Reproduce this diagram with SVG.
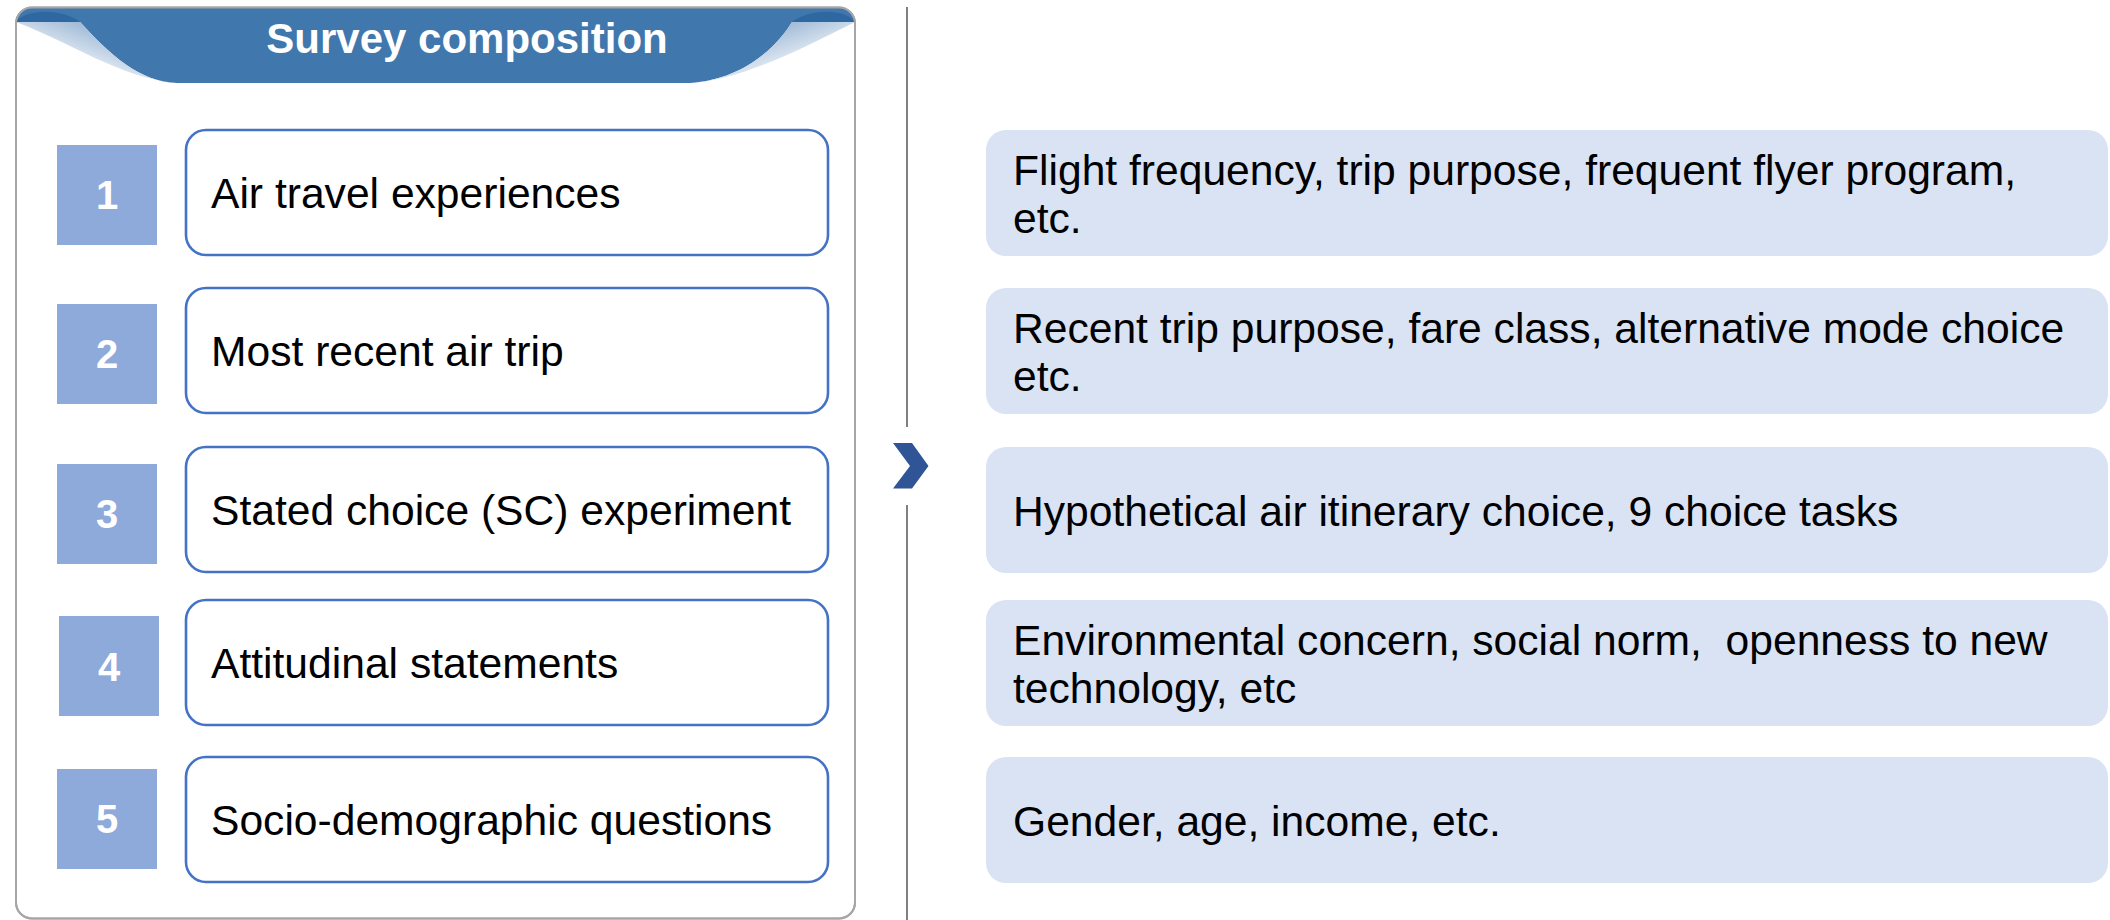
<svg xmlns="http://www.w3.org/2000/svg" width="2110" height="920" viewBox="0 0 2110 920">
  <style>
    .num-box { fill: #8eaadb; }
    .num { font-family: "Liberation Sans", Arial, sans-serif; font-weight: bold; font-size: 40px; fill: #ffffff; text-anchor: middle; }
    .item-box { fill: #ffffff; stroke: #4472c4; stroke-width: 2.6; }
    .item { font-family: "Liberation Sans", Arial, sans-serif; font-size: 42.6px; fill: #000000; }
    .detail-box { fill: #dae3f3; }
    .detail { font-family: "Liberation Sans", Arial, sans-serif; font-size: 42.6px; fill: #000000; white-space: pre; }
    .title { font-family: "Liberation Sans", Arial, sans-serif; font-weight: bold; font-size: 42px; fill: #ffffff; text-anchor: middle; }
    .divider { stroke: #808080; stroke-width: 2; }
  </style>
  <defs>
    <clipPath id="frameClip">
      <rect x="16" y="7.5" width="839" height="911" rx="16"/>
    </clipPath>
    <linearGradient id="curlLeft" x1="0" y1="1" x2="1" y2="0">
      <stop offset="0.25" stop-color="#ffffff"/>
      <stop offset="0.85" stop-color="#7ea2c9"/>
    </linearGradient>
    <linearGradient id="curlRight" x1="1" y1="1" x2="0" y2="0">
      <stop offset="0.25" stop-color="#ffffff"/>
      <stop offset="0.85" stop-color="#7ea2c9"/>
    </linearGradient>
  </defs>

  <rect width="2110" height="920" fill="#ffffff"/>

  <!-- Survey composition panel -->
  <g id="panel">
    <rect x="16" y="7.5" width="839" height="911" rx="16" fill="#ffffff" stroke="#a6a6a6" stroke-width="2"/>
    <g clip-path="url(#frameClip)">
      <path d="M16,7 H855 V22 H792 C775,50 740,80 690,83 H177 C140,82 110,55 80,22 H16 Z" fill="#4077ad"/>
      <!-- folded corners -->
      <path d="M80,22 C110,55 140,82 177,83 C120,78 70,42 16,22 Z" fill="url(#curlLeft)"/>
      <path d="M792,22 C775,50 740,80 690,83 C740,80 800,50 855,22 Z" fill="url(#curlRight)"/>
      <path d="M16,22 C25,9 62,8 80,22 Z" fill="#2f67a0"/>
      <path d="M855,22 C846,9 810,8 792,22 Z" fill="#2f67a0"/>
    </g>
    <rect x="16" y="7.5" width="839" height="911" rx="16" fill="none" stroke="#a6a6a6" stroke-width="2"/>
    <text class="title" x="467" y="53">Survey composition</text>
  </g>

  <!-- Numbered items -->
  <g id="item1">
    <rect class="num-box" x="57" y="145" width="100" height="100"/>
    <text class="num" x="107" y="209">1</text>
    <rect class="item-box" x="186" y="130" width="642" height="125" rx="20"/>
    <text class="item" x="211" y="208">Air travel experiences</text>
  </g>
  <g id="item2">
    <rect class="num-box" x="57" y="304" width="100" height="100"/>
    <text class="num" x="107" y="368">2</text>
    <rect class="item-box" x="186" y="288" width="642" height="125" rx="20"/>
    <text class="item" x="211" y="366">Most recent air trip</text>
  </g>
  <g id="item3">
    <rect class="num-box" x="57" y="464" width="100" height="100"/>
    <text class="num" x="107" y="528">3</text>
    <rect class="item-box" x="186" y="447" width="642" height="125" rx="20"/>
    <text class="item" x="211" y="525">Stated choice (SC) experiment</text>
  </g>
  <g id="item4">
    <rect class="num-box" x="59" y="616" width="100" height="100"/>
    <text class="num" x="109" y="681">4</text>
    <rect class="item-box" x="186" y="600" width="642" height="125" rx="20"/>
    <text class="item" x="211" y="678">Attitudinal statements</text>
  </g>
  <g id="item5">
    <rect class="num-box" x="57" y="769" width="100" height="100"/>
    <text class="num" x="107" y="833">5</text>
    <rect class="item-box" x="186" y="757" width="642" height="125" rx="20"/>
    <text class="item" x="211" y="835">Socio-demographic questions</text>
  </g>

  <!-- Divider with chevron -->
  <g id="connectors">
    <line class="divider" x1="907" y1="7" x2="907" y2="427"/>
    <line class="divider" x1="907" y1="505" x2="907" y2="920"/>
    <polygon points="893,443 912,443 928.5,466 912,488.5 893,488.5 910,466" fill="#2f5597"/>
  </g>

  <!-- Detail boxes -->
  <g id="detail1">
    <rect class="detail-box" x="986" y="130" width="1122" height="126" rx="20"/>
    <text class="detail" x="1013" y="185">Flight frequency, trip purpose, frequent flyer program,</text>
    <text class="detail" x="1013" y="233">etc.</text>
  </g>
  <g id="detail2">
    <rect class="detail-box" x="986" y="288" width="1122" height="126" rx="20"/>
    <text class="detail" x="1013" y="343">Recent trip purpose, fare class, alternative mode choice</text>
    <text class="detail" x="1013" y="391">etc.</text>
  </g>
  <g id="detail3">
    <rect class="detail-box" x="986" y="447" width="1122" height="126" rx="20"/>
    <text class="detail" x="1013" y="526">Hypothetical air itinerary choice, 9 choice tasks</text>
  </g>
  <g id="detail4">
    <rect class="detail-box" x="986" y="600" width="1122" height="126" rx="20"/>
    <text class="detail" x="1013" y="655">Environmental concern, social norm,  openness to new</text>
    <text class="detail" x="1013" y="703">technology, etc</text>
  </g>
  <g id="detail5">
    <rect class="detail-box" x="986" y="757" width="1122" height="126" rx="20"/>
    <text class="detail" x="1013" y="836">Gender, age, income, etc.</text>
  </g>
</svg>
